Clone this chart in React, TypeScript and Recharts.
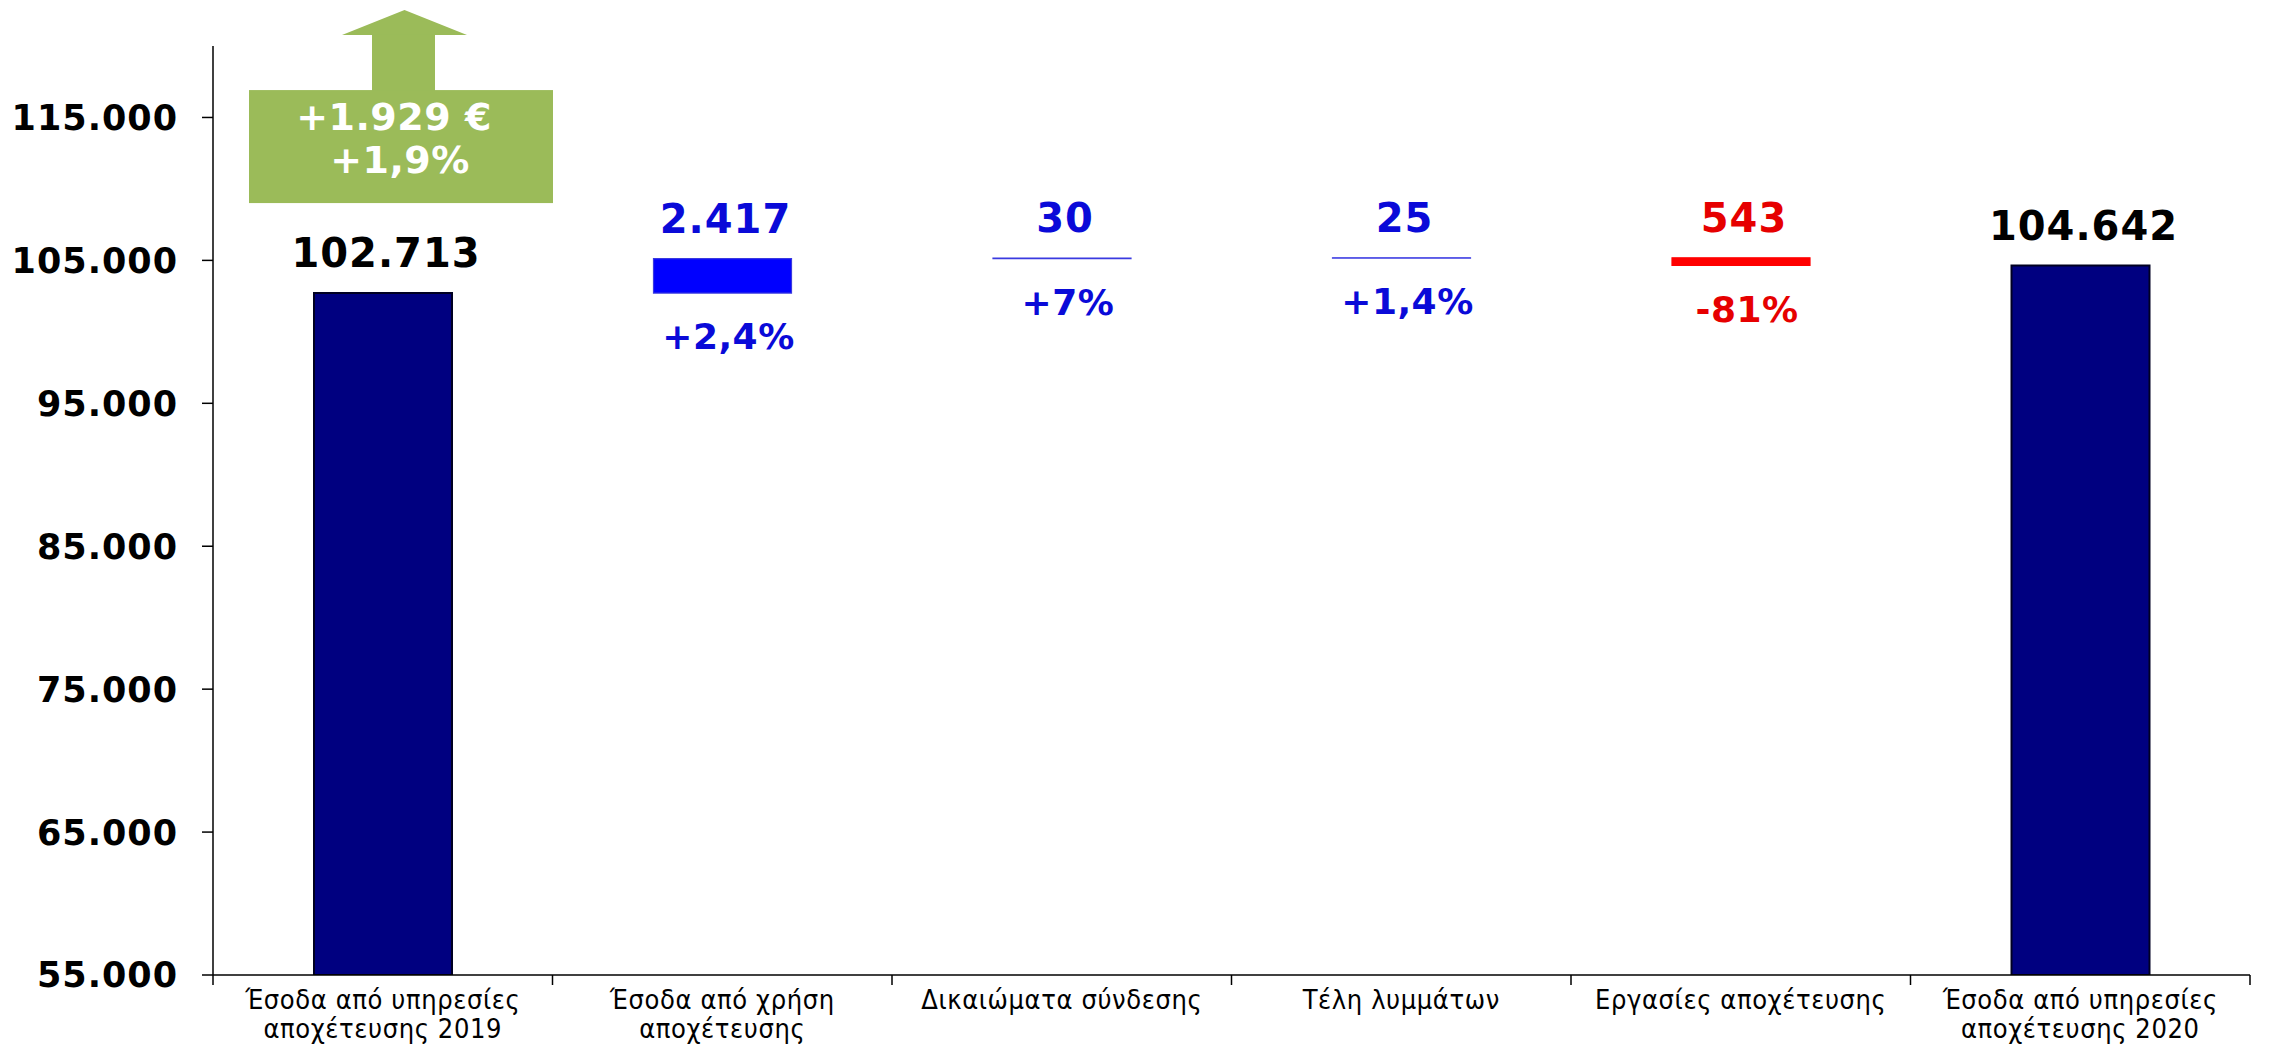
import React from 'react';
import { BarChart, Bar, XAxis, YAxis, Cell, LabelList } from 'recharts';

const categories = [
  'Έσοδα από υπηρεσίες\nαποχέτευσης 2019',
  'Έσοδα από χρήση\nαποχέτευσης',
  'Δικαιώματα σύνδεσης',
  'Τέλη λυμμάτων',
  'Εργασίες αποχέτευσης',
  'Έσοδα από υπηρεσίες\nαποχέτευσης 2020',
];
const values = [102713, 2417, 30, 25, -543, 104642];
const kinds = ['total', 'delta', 'delta', 'delta', 'delta', 'total'];
const percentLabels = ['', '+2,4%', '+7%', '+1,4%', '-81%', ''];
const yTicks = [55000, 65000, 75000, 85000, 95000, 105000, 115000];
const yDomain: [number, number] = [55000, 120000];
const changeLines = ['+1.929 €', '+1,9%'];

const WIDTH = 2272;
const HEIGHT = 1045;
const Y_AXIS_W = 213;
const MARGIN = { top: 46, right: 22, left: 0, bottom: 0 };
const BAND = (WIDTH - Y_AXIS_W - MARGIN.right - MARGIN.left) / categories.length;

const NUM_FONT = '"DejaVu Sans", Verdana, sans-serif';
const CAT_FONT = '"DejaVu Sans Condensed", "Liberation Sans Narrow", "DejaVu Sans", sans-serif';

const fmt = (v: number) => String(Math.round(Math.abs(v))).replace(/\B(?=(\d{3})+(?!\d))/g, '.');

let running = 0;
const data = categories.map((name, i) => {
  let range: [number, number];
  if (kinds[i] === 'total') {
    range = [yDomain[0], values[i]];
    running = values[i];
  } else {
    const s = running;
    running += values[i];
    range = [Math.min(s, running), Math.max(s, running)];
  }
  return { name, range, value: values[i], kind: kinds[i], pct: percentLabels[i] };
});

const fillFor = (i: number) =>
  kinds[i] === 'total' ? '#000080' : values[i] < 0 ? '#ff0000' : '#0000ff';
const strokeFor = (i: number) =>
  kinds[i] === 'total' ? '#000022' : values[i] < 0 ? '#ff0000' : '#3a3ae0';
const textFor = (i: number) =>
  kinds[i] === 'total' ? '#000000' : values[i] < 0 ? '#e60000' : '#0a0ad8';

const Badge = ({ cx, top }: { cx: number; top: number }) => {
  const green = '#9bbb59';
  const bx = cx + 17;
  return (
    <g>
      <polygon points={`${cx - 41},${top - 258} ${cx + 84},${top - 258} ${cx + 21.5},${top - 283}`} fill={green} />
      <rect x={cx - 11} y={top - 259} width={63} height={57} fill={green} />
      <rect x={cx - 134} y={top - 203} width={304} height={113} fill={green} />
      <text x={bx - 6} y={top - 163} textAnchor="middle" fontFamily={NUM_FONT} fontWeight={700} fontSize={38} letterSpacing={0.5} fill="#ffffff">
        {changeLines[0]}
      </text>
      <text x={bx} y={top - 120} textAnchor="middle" fontFamily={NUM_FONT} fontWeight={700} fontSize={38} letterSpacing={0.5} fill="#ffffff">
        {changeLines[1]}
      </text>
    </g>
  );
};

const BarLabels = (props: any) => {
  const { x, y, width, height, index } = props;
  const d = data[index];
  const cx = Number(x) + Number(width) / 2;
  const top = Number(y);
  const bottom = Number(y) + Number(height);
  return (
    <g>
      {index === 0 && <Badge cx={cx} top={top} />}
      <text x={cx + 3} y={top - 26} textAnchor="middle" fontFamily={NUM_FONT} fontWeight={700} fontSize={40} letterSpacing={1} fill={textFor(index)}>
        {fmt(d.value)}
      </text>
      {d.pct && (
        <text x={cx + 6} y={bottom + 56} textAnchor="middle" fontFamily={NUM_FONT} fontWeight={700} fontSize={36} letterSpacing={0.5} fill={textFor(index)}>
          {d.pct}
        </text>
      )}
    </g>
  );
};

const CategoryTick = (props: any) => {
  const { x, y, payload, index } = props;
  const lines = String(payload.value).split('\n');
  const last = index === categories.length - 1;
  return (
    <g>
      <line x1={x - BAND / 2} x2={x - BAND / 2} y1={y} y2={y + 10} stroke="#000" strokeWidth={1.5} />
      {last && <line x1={x + BAND / 2} x2={x + BAND / 2} y1={y} y2={y + 10} stroke="#000" strokeWidth={1.5} />}
      {lines.map((l, k) => (
        <text key={k} x={x} y={y + 34 + k * 29} textAnchor="middle" fontFamily={CAT_FONT} fontSize={27} letterSpacing={0.6} fill="#000">
          {l}
        </text>
      ))}
    </g>
  );
};

export default function App() {
  return (
    <div style={{ width: WIDTH, height: HEIGHT, background: '#fff' }}>
      <style>{'body{margin:0;background:#fff;overflow:hidden}'}</style>
      <BarChart width={WIDTH} height={HEIGHT} data={data} margin={MARGIN} barSize={138}>
        <XAxis
          dataKey="name"
          interval={0}
          tickLine={false}
          tickSize={0}
          tickMargin={0}
          height={70}
          axisLine={{ stroke: '#000', strokeWidth: 1.5 }}
          tick={(p: any) => <CategoryTick {...p} />}
        />
        <YAxis
          type="number"
          domain={yDomain}
          ticks={yTicks}
          interval={0}
          allowDataOverflow
          width={Y_AXIS_W}
          tickSize={11}
          tickMargin={24}
          tickFormatter={(v: number) => fmt(v)}
          axisLine={{ stroke: '#000', strokeWidth: 1.5 }}
          tickLine={{ stroke: '#000', strokeWidth: 1.5 }}
          tick={{ fill: '#000', fontSize: 35, fontWeight: 700, fontFamily: NUM_FONT, letterSpacing: 1 }}
        />
        <Bar dataKey="range" isAnimationActive={false}>
          {data.map((d, i) => (
            <Cell key={i} fill={fillFor(i)} stroke={strokeFor(i)} strokeWidth={kinds[i] === 'total' ? 2 : 1.2} />
          ))}
          <LabelList dataKey="range" content={(p: any) => <BarLabels {...p} />} />
        </Bar>
      </BarChart>
    </div>
  );
}
